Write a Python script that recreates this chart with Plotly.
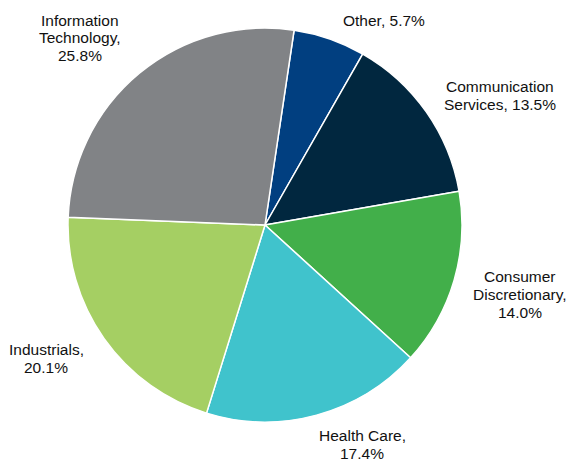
import plotly.graph_objects as go

sectors = ["Other", "Communication Services", "Consumer Discretionary",
           "Health Care", "Industrials", "Information Technology"]
weights = [5.7, 13.5, 14.0, 17.4, 20.1, 25.8]
label_lines = [["Other, 5.7%"], ["Communication", "Services, 13.5%"],
               ["Consumer", "Discretionary,", "14.0%"], ["Health Care,", "17.4%"],
               ["Industrials,", "20.1%"], ["Information", "Technology,", "25.8%"]]
colors = ["#013f80", "#01273f", "#42af4a", "#40c3cc", "#a5cf63", "#818386"]

# label block centres in pixels (x, y from top)
label_pos = [(384, 20), (500, 95.5), (520, 294), (362, 444), (46, 358), (80, 38)]
line_gap = 18

W, H = 569, 461
cx, cy, r = 265, 225, 197

fig = go.Figure(go.Pie(
    labels=sectors, values=weights, sort=False, direction="clockwise",
    rotation=8.5, marker=dict(colors=colors, line=dict(color="white", width=1.5)),
    textinfo="none", hoverinfo="label+percent", showlegend=False,
    domain=dict(x=[(cx - r) / W, (cx + r) / W], y=[1 - (cy + r) / H, 1 - (cy - r) / H]),
))

for lines, (px, py) in zip(label_lines, label_pos):
    n = len(lines)
    for i, t in enumerate(lines):
        ly = py + (i - (n - 1) / 2) * line_gap
        fig.add_annotation(x=px / W, y=1 - ly / H, xref="paper", yref="paper",
                           text=t, showarrow=False, xanchor="center", yanchor="middle",
                           align="center",
                           font=dict(family="Liberation Sans, Arial", size=15.5, color="#111111"))

fig.update_layout(width=W, height=H, margin=dict(l=0, r=0, t=0, b=0),
                  paper_bgcolor="white", plot_bgcolor="white")
fig.write_html("out.html", config={"displayModeBar": False},
               post_script="document.body.style.margin='0';")
